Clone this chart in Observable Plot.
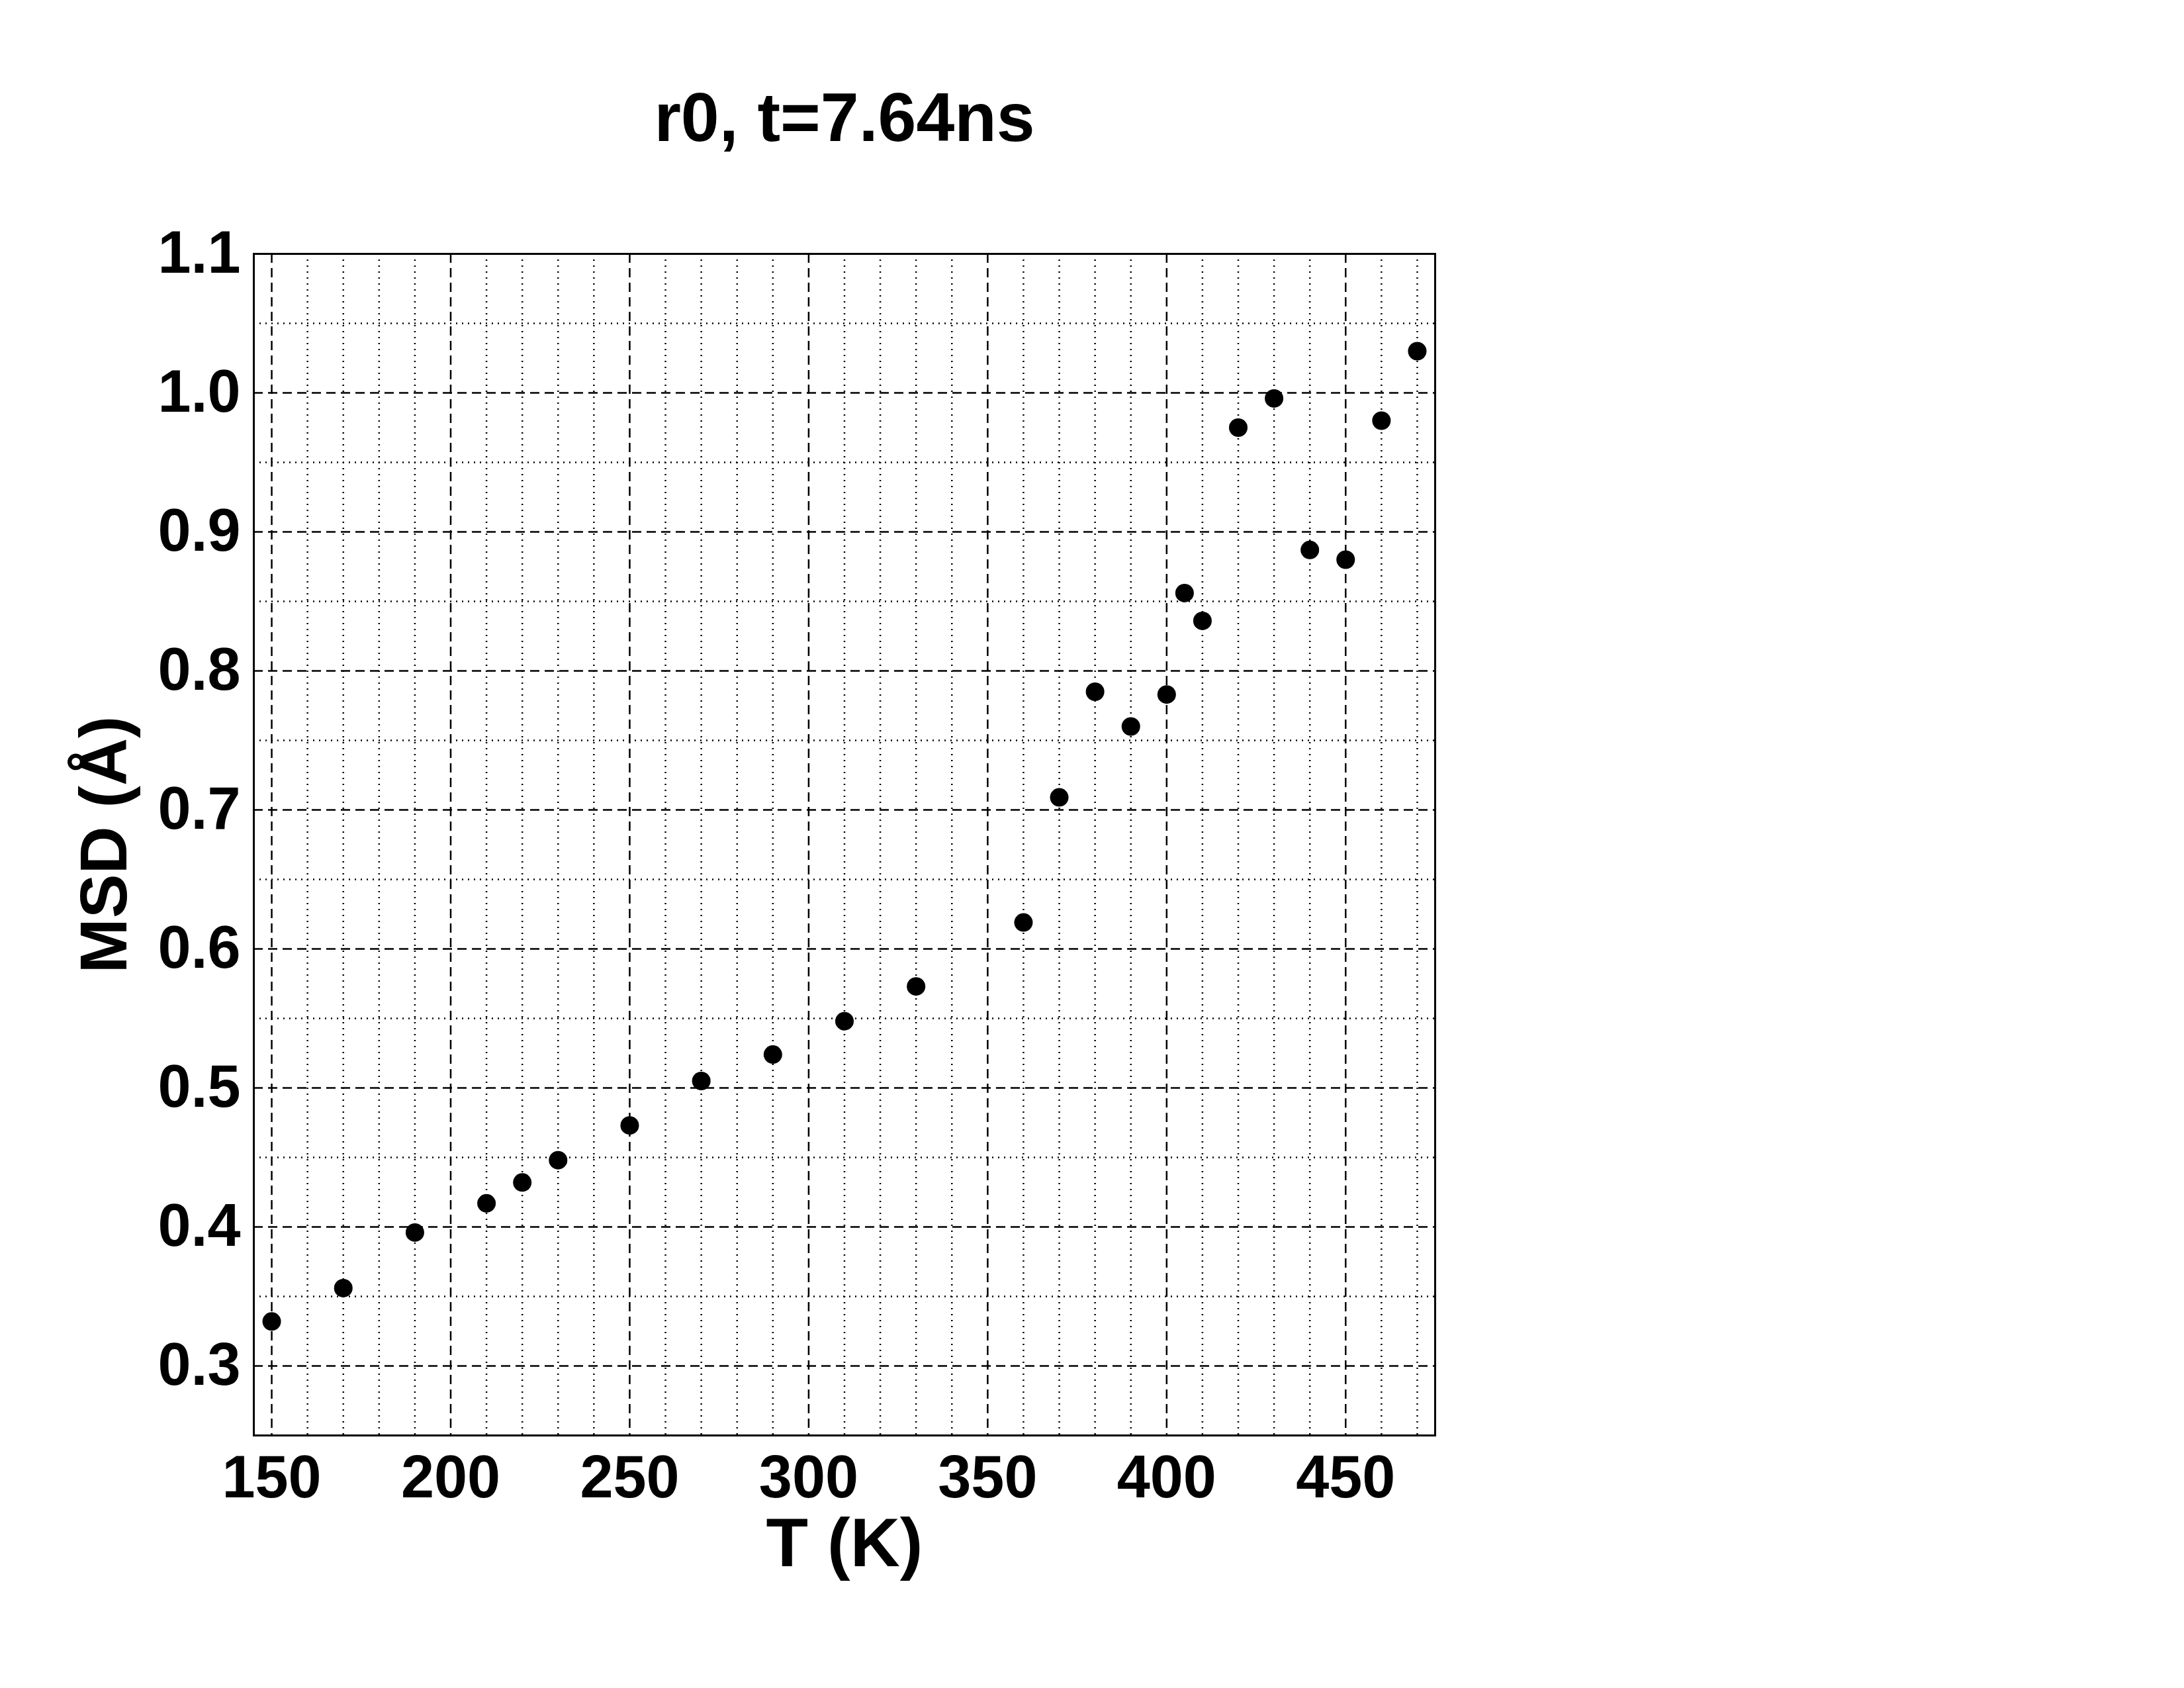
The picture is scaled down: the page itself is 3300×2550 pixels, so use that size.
<!DOCTYPE html>
<html><head><meta charset="utf-8">
<script src="https://cdn.jsdelivr.net/npm/d3@7"></script>
<script src="https://cdn.jsdelivr.net/npm/@observablehq/plot@0.6"></script>
<style>body{margin:0;background:#fff}</style>
</head><body><div id="c"></div>
<script>
const temps = [150,170,190,210,220,230,250,270,290,310,330,360,370,380,390,400,405,410,420,430,440,450,460,470];
const msd = [0.332,0.356,0.396,0.417,0.432,0.448,0.473,0.505,0.524,0.548,0.573,0.619,0.709,0.785,0.760,0.783,0.856,0.836,0.975,0.996,0.887,0.880,0.980,1.030];
const xMajor = [150,200,250,300,350,400,450];
const xMinor = d3.range(150,471,10).filter(v=>v%50!==0);
const yMajor = [0.3,0.4,0.5,0.6,0.7,0.8,0.9,1.0,1.1];
const yMinor = [0.35,0.45,0.55,0.65,0.75,0.85,0.95,1.05];
const data = temps.map((t,i)=>({t, m: msd[i]}));
const font = "Liberation Sans, Arial, sans-serif";
const plot = Plot.plot({
  width:3300, height:2550,
  marginLeft:383, marginRight:1132, marginTop:383, marginBottom:382,
  style:{fontFamily:font, fontWeight:"bold", fontSize:"90px", color:"black", background:"white"},
  x:{domain:[145,475]},
  y:{domain:[0.25,1.1]},
  marks:[
    Plot.ruleX(xMinor,{stroke:"black", strokeWidth:2.5, strokeDasharray:"2,7"}),
    Plot.ruleY(yMinor,{stroke:"black", strokeWidth:2.5, strokeDasharray:"2,7"}),
    Plot.ruleX(xMajor,{stroke:"black", strokeWidth:2.5, strokeDasharray:"14,8"}),
    Plot.ruleY(yMajor,{stroke:"black", strokeWidth:2.5, strokeDasharray:"14,8"}),
    Plot.frame({stroke:"black", strokeWidth:3}),
    Plot.axisX(xMajor,{tickSize:0, tickPadding:30, fontSize:90, fontWeight:"bold", label:null}),
    Plot.axisY(yMajor,{tickSize:0, tickPadding:20, fontSize:90, fontWeight:"bold", label:null, tickFormat:d3.format(".1f")}),
    Plot.dot(data,{x:"t", y:"m", r:14, fill:"black"}),
    Plot.text(["r0, t=7.64ns"],{frameAnchor:"top", lineAnchor:"middle", textAnchor:"middle", dy:-204, fontSize:104, fontWeight:"bold"}),
    Plot.text(["T (K)"],{frameAnchor:"bottom", lineAnchor:"middle", textAnchor:"middle", dy:164, fontSize:104, fontWeight:"bold"}),
    Plot.text(["MSD (Å)"],{frameAnchor:"left", lineAnchor:"middle", textAnchor:"middle", dx:-225, rotate:-90, fontSize:100, fontWeight:"bold"})
  ]
});
document.getElementById("c").appendChild(plot);
</script></body></html>
